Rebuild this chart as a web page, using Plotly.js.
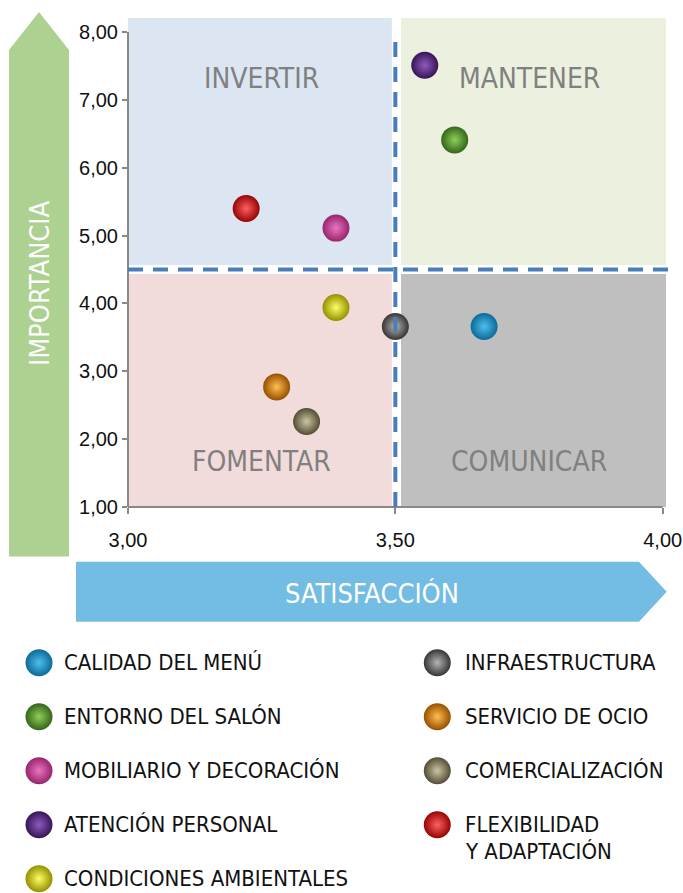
<!DOCTYPE html>
<html>
<head>
<meta charset="utf-8">
<script src="https://cdn.plot.ly/plotly-3.0.1.min.js"></script>
<style>
html,body{margin:0;padding:0;background:#fff;}
#chart{width:683px;height:893px;}
</style>
</head>
<body>
<div id="chart"></div>
<script>
// ---- data ----
const categories = [
  "CALIDAD DEL MENÚ",
  "ENTORNO DEL SALÓN",
  "MOBILIARIO Y DECORACIÓN",
  "ATENCIÓN PERSONAL",
  "CONDICIONES AMBIENTALES",
  "INFRAESTRUCTURA",
  "SERVICIO DE OCIO",
  "COMERCIALIZACIÓN",
  "FLEXIBILIDAD<br>Y ADAPTACIÓN"
];
const satisfaccion = [3.666, 3.611, 3.389, 3.555, 3.389, 3.500, 3.278, 3.334, 3.221];
const importancia  = [3.66, 6.41, 5.11, 7.51, 3.94, 3.66, 2.77, 2.26, 5.40];
const centerColors = ["#4cc0ee", "#8fcf58", "#ec74c0", "#8d5cbb", "#ffff66", "#b4b4b4", "#ffc050", "#ccc5a4", "#ff6060"];
const edgeColors   = ["#0b6a98", "#34661a", "#97246c", "#381457", "#959000", "#363636", "#974f00", "#524d34", "#960404"];
const xTickVals = [3.0, 3.5, 4.0];
const xTickText = ["3,00", "3,50", "4,00"];
const yTickVals = [1, 2, 3, 4, 5, 6, 7, 8];
const yTickText = ["1,00", "2,00", "3,00", "4,00", "5,00", "6,00", "7,00", "8,00"];
const quadrantLabels = ["INVERTIR", "MANTENER", "FOMENTAR", "COMUNICAR"];
const xTitle = "SATISFACCIÓN";
const yTitle = "IMPORTANCIA";
const xMid = 3.5, yMid = 4.5;

// ---- geometry helpers (figure pixels -> paper) ----
const W = 683, H = 893;
const px = v => v / W;
const py = v => 1 - v / H;
const pathFrom = pts => pts.map((p, i) => (i ? "L" : "M") + px(p[0]).toFixed(5) + "," + py(p[1]).toFixed(5)).join(" ") + " Z";

const NARROW = "'Liberation Sans Narrow', 'DejaVu Sans Condensed', 'Arial Narrow', sans-serif";
const REG = "'Liberation Sans', Arial, sans-serif";

// main scatter (radial gradient: marker.color = rim, gradient.color = centre)
const main = {
  type: "scatter", mode: "markers",
  x: satisfaccion, y: importancia, text: categories,
  xaxis: "x", yaxis: "y",
  hoverinfo: "text",
  marker: {size: 27, color: edgeColors, line: {width: 0},
           gradient: {type: "radial", color: centerColors}},
  showlegend: false
};

// custom legend (two columns)
const legCol = categories.map((c, i) => i < 5 ? 0 : 1);
const legRow = categories.map((c, i) => i < 5 ? i : i - 5);
const legend = {
  type: "scatter", mode: "markers",
  x: legCol, y: legRow, xaxis: "x2", yaxis: "y2",
  hoverinfo: "skip",
  marker: {size: 27, color: edgeColors, line: {width: 0},
           gradient: {type: "radial", color: centerColors}},
  showlegend: false
};

const annotations = [];
categories.forEach((c, i) => {
  c.split("<br>").forEach((line, k) => {
    annotations.push({xref: "x2", yref: "y2", x: legCol[i], y: legRow[i],
      text: line, showarrow: false, xanchor: "left", yanchor: "middle",
      xshift: legCol[i] ? 26 : 23, yshift: -k * 27,
      font: {family: NARROW, size: 22, color: "#111"}});
  });
});
const qx = [3.25, 3.75, 3.25, 3.75];
const qy = [7.32, 7.32, 1.67, 1.67];
quadrantLabels.forEach((t, i) => annotations.push({xref: "x", yref: "y", x: qx[i], y: qy[i],
  text: t, showarrow: false, xanchor: "center", yanchor: "middle",
  font: {family: NARROW, size: 28, color: "#808080"}}));
annotations.push({xref: "paper", yref: "paper", x: px(39), y: py(284), text: yTitle, textangle: -90,
  xanchor: "center", yanchor: "middle",
  showarrow: false, font: {family: NARROW, size: 27, color: "#fff"}});
annotations.push({xref: "paper", yref: "paper", x: px(372), y: py(593), text: xTitle,
  xanchor: "center", yanchor: "middle",
  showarrow: false, font: {family: NARROW, size: 27, color: "#fff"}});

const gapY = 0.066;
const xTop = 4.0062, yTop = 8.2063;
const shapes = [
  // quadrants
  {type: "rect", xref: "x", yref: "y", layer: "below", x0: 3.0, x1: xMid - 0.0065, y0: yMid + gapY, y1: yTop, fillcolor: "#dce6f2", line: {width: 0}},
  {type: "rect", xref: "x", yref: "y", layer: "below", x0: xMid + 0.0106, x1: xTop, y0: yMid + gapY, y1: yTop, fillcolor: "#ebf1de", line: {width: 0}},
  {type: "rect", xref: "x", yref: "y", layer: "below", x0: 3.0, x1: xMid - 0.0065, y0: 1, y1: yMid - gapY, fillcolor: "#f2dcdb", line: {width: 0}},
  {type: "rect", xref: "x", yref: "y", layer: "below", x0: xMid + 0.0106, x1: xTop, y0: 1, y1: yMid - gapY, fillcolor: "#bfbfbf", line: {width: 0}},
  // axis lines
  {type: "line", xref: "paper", yref: "y", x0: px(128), x1: px(128), y0: 1, y1: 8, line: {color: "#898989", width: 2}},
  {type: "line", xref: "x", yref: "paper", x0: 3, x1: 4, y0: py(507), y1: py(507), line: {color: "#898989", width: 2}},
  // dashed mid lines
  {type: "line", xref: "x", yref: "y", x0: xMid, x1: xMid, y0: 1, y1: 7.97, line: {color: "#4a7ebb", width: 4, dash: "15px,10px"}},
  {type: "line", xref: "paper", yref: "y", x0: px(128), x1: px(673), y0: yMid, y1: yMid, line: {color: "#4a7ebb", width: 4, dash: "15px,10px"}},
  // arrows
  {type: "path", xref: "paper", yref: "paper", path: pathFrom([[9, 556.5], [9, 50], [39, 12], [69, 50], [69, 556.5]]), fillcolor: "#acd191", line: {width: 0}},
  {type: "path", xref: "paper", yref: "paper", path: pathFrom([[76, 561.7], [639, 561.7], [666.7, 591.7], [639, 621.7], [76, 621.7]]), fillcolor: "#73bce4", line: {width: 0}}
];

const layout = {
  width: W, height: H,
  margin: {l: 0, r: 0, t: 0, b: 0},
  paper_bgcolor: "#fff", plot_bgcolor: "rgba(0,0,0,0)",
  showlegend: false,
  xaxis: {domain: [px(128), px(666)], range: [3, xTop], anchor: "y",
    tickvals: xTickVals, ticktext: xTickText, ticks: "outside", ticklen: 6, tickwidth: 2, tickcolor: "#898989",
    ticklabelstandoff: 9,
    showgrid: false, zeroline: false, showline: false,
    tickfont: {family: REG, size: 20, color: "#111"}},
  yaxis: {domain: [py(507), py(18)], range: [1, yTop], anchor: "x",
    tickvals: yTickVals, ticktext: yTickText, ticks: "outside", ticklen: 5, tickwidth: 2, tickcolor: "#898989",
    showgrid: false, zeroline: false, showline: false,
    tickfont: {family: REG, size: 20, color: "#111"}},
  xaxis2: {domain: [0, 1], range: [-39 / 398.3, (W - 39) / 398.3], anchor: "y2",
    visible: false, fixedrange: true},
  yaxis2: {domain: [0, 1], range: [(H - 662.7) / 54, -662.7 / 54], anchor: "x2",
    visible: false, fixedrange: true},
  shapes: shapes,
  annotations: annotations
};

Plotly.newPlot("chart", [main, legend], layout, {displayModeBar: false, staticPlot: true});
</script>
</body>
</html>
